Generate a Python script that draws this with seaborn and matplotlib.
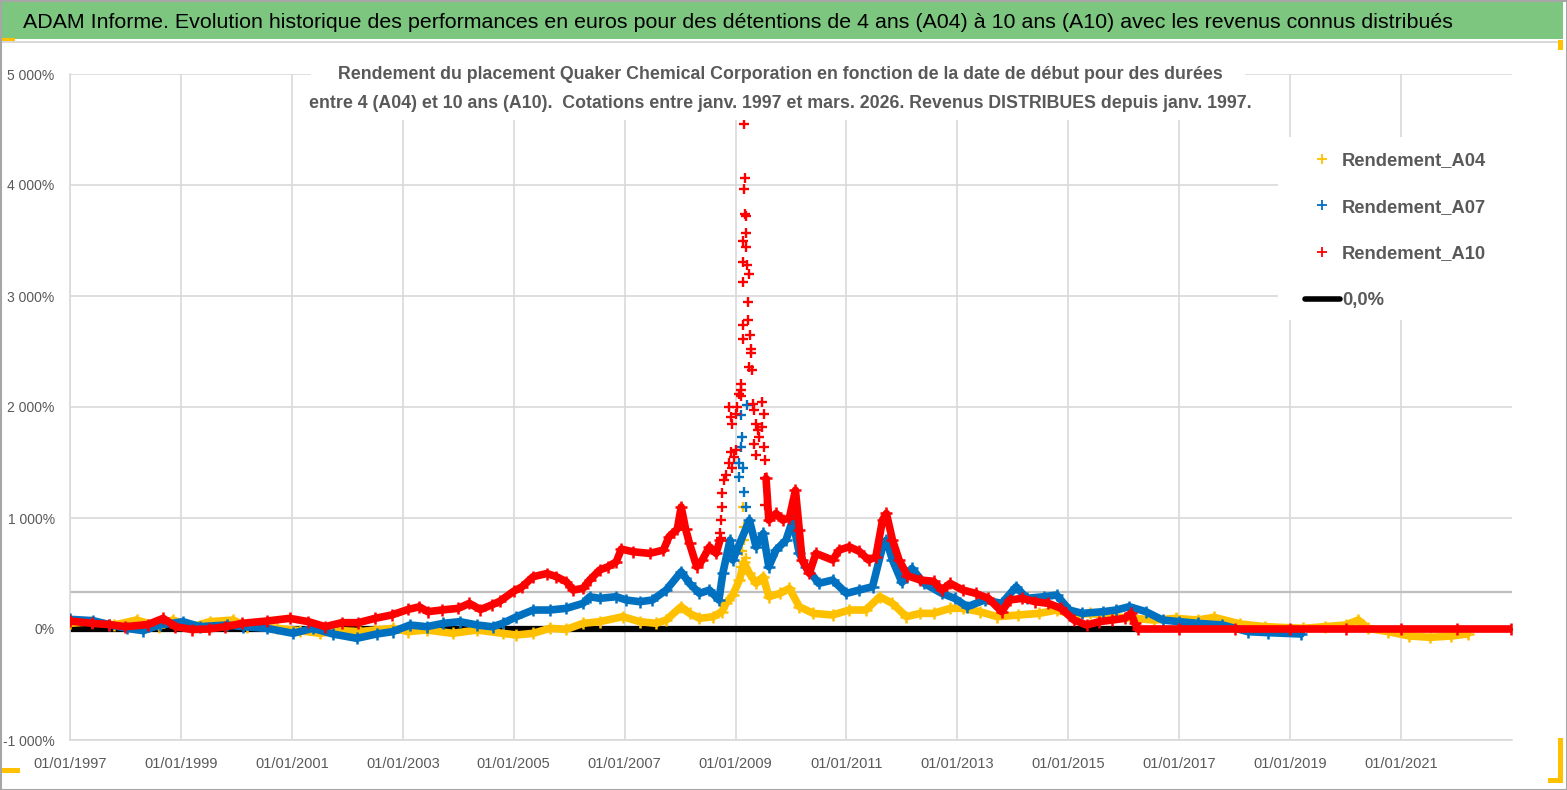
import numpy as np
import pandas as pd
import matplotlib.pyplot as plt
import seaborn as sns
from matplotlib.lines import Line2D
from matplotlib.patches import Rectangle

sns.set_theme(style='white')
plt.rcParams['font.family'] = ['Liberation Sans', 'DejaVu Sans']

# ---- data (start date as decimal year, performance in %) ----
a04_years = [1997.0, 1997.4, 1997.8, 1998.2, 1998.6, 1998.85, 1999.2, 1999.52, 1999.94, 2000.2,
             2000.73, 2001.14, 2001.5, 2001.9, 2002.22, 2002.5, 2002.82, 2003.1, 2003.43, 2003.9,
             2004.34, 2004.8, 2005.05, 2005.35, 2005.65, 2005.95, 2006.25, 2006.55, 2006.97, 2007.27,
             2007.57, 2007.75, 2008.02, 2008.17, 2008.35, 2008.6, 2008.75, 2008.83, 2008.95, 2009.07,
             2009.15, 2009.25, 2009.37, 2009.5, 2009.6, 2009.8, 2009.97, 2010.15, 2010.4, 2010.75,
             2011.05, 2011.35, 2011.6, 2011.83, 2012.08, 2012.33, 2012.57, 2012.87, 2013.1, 2013.4,
             2013.72, 2014.1, 2014.48, 2014.79, 2015.1, 2015.4, 2015.79, 2016.17, 2016.55, 2016.94,
             2017.33, 2017.63, 2018.1, 2018.55, 2019.24, 2019.62, 2020.0, 2020.23, 2020.4, 2020.77,
             2021.15, 2021.53, 2021.9, 2022.2]
a04_values = [51, 66, 36, 81, 21, 81, 21, 66, 81, 21,
              6, -15, -39, -15, -24, -9, 6, -24, -9, -39,
              -9, -39, -54, -39, 6, -3, 51, 66, 111, 66,
              51, 81, 201, 141, 96, 111, 156, 231, 306, 441,
              600, 501, 411, 471, 291, 321, 366, 201, 141, 126,
              171, 171, 291, 231, 111, 141, 141, 186, 186, 156,
              111, 126, 141, 171, 126, 141, 111, 96, 81, 96,
              81, 105, 45, 21, 6, 21, 36, 81, 6, -24,
              -63, -75, -63, -45]

a07_years = [1997.0, 1997.42, 1997.7, 1998.02, 1998.32, 1998.62, 1999.04, 1999.34, 1999.83, 2000.12,
             2000.55, 2001.02, 2001.38, 2001.74, 2002.17, 2002.53, 2002.82, 2003.13, 2003.43, 2003.73,
             2004.03, 2004.34, 2004.62, 2004.8, 2005.05, 2005.35, 2005.65, 2005.95, 2006.25, 2006.37,
             2006.55, 2006.85, 2007.03, 2007.27, 2007.5, 2007.75, 2008.02, 2008.17, 2008.35, 2008.53,
             2008.7, 2008.77, 2008.9, 2008.95, 2009.0, 2009.25, 2009.37, 2009.5, 2009.6, 2009.73,
             2009.91, 2010.03, 2010.15, 2010.27, 2010.5, 2010.75, 2011.0, 2011.23, 2011.47, 2011.65,
             2011.72, 2011.83, 2012.0, 2012.18, 2012.4, 2012.72, 2012.95, 2013.18, 2013.49, 2013.8,
             2014.06, 2014.25, 2014.56, 2014.79, 2015.02, 2015.25, 2015.63, 2015.86, 2016.1, 2016.4,
             2016.7, 2017.0, 2017.33, 2017.78, 2018.24, 2018.6, 2019.2]
a07_values = [87, 75, 40, 6, -15, 36, 66, 21, 36, 21,
              6, -39, 6, -45, -84, -45, -24, 36, 21, 51,
              66, 36, 20, 51, 110, 171, 171, 186, 231, 291,
              276, 291, 261, 246, 261, 351, 516, 411, 321, 351,
              261, 501, 801, 621, 681, 981, 741, 861, 561, 711,
              801, 981, 681, 561, 411, 441, 321, 351, 381, 741,
              801, 621, 420, 546, 411, 321, 276, 201, 261, 231,
              381, 276, 291, 306, 171, 141, 156, 171, 201, 156,
              81, 66, 51, 36, -24, -33, -45]

# A10 before the 2009 peak
a10_years = [1997.0, 1997.4, 1997.7, 1998.0, 1998.4, 1998.68, 1998.9, 1999.2, 1999.5, 1999.8,
             2000.1, 2000.55, 2000.96, 2001.3, 2001.6, 2001.9, 2002.2, 2002.5, 2002.8, 2003.1,
             2003.3, 2003.45, 2003.7, 2004.0, 2004.2, 2004.4, 2004.6, 2004.75, 2005.0, 2005.15,
             2005.35, 2005.6, 2005.77, 2005.95, 2006.07, 2006.25, 2006.37, 2006.55, 2006.7, 2006.85,
             2006.94, 2007.15, 2007.45, 2007.7, 2007.8, 2007.95, 2008.02, 2008.1, 2008.17, 2008.3,
             2008.4, 2008.53, 2008.65, 2008.72]
a10_values = [72, 51, 40, 21, 40, 96, 21, -5, 0, 20,
              51, 72, 96, 66, 21, 57, 57, 96, 126, 177,
              200, 156, 171, 186, 231, 175, 216, 250, 340, 380,
              471, 500, 471, 426, 351, 366, 441, 531, 561, 606,
              720, 696, 681, 711, 831, 900, 1100, 900, 771, 561,
              621, 741, 681, 801]
# A10 after the 2009 peak (zeros once the 10-year horizon is beyond the last quote)
a10_late_years = [2009.55, 2009.6, 2009.73, 2009.85, 2009.97, 2010.08, 2010.15, 2010.2, 2010.33, 2010.45,
                  2010.75, 2010.87, 2011.05, 2011.23, 2011.4, 2011.53, 2011.65, 2011.72, 2011.83, 2011.95,
                  2012.1, 2012.33, 2012.57, 2012.72, 2012.87, 2013.1, 2013.33, 2013.56, 2013.8, 2013.94,
                  2014.17, 2014.4, 2014.64, 2014.87, 2015.1, 2015.33, 2015.56, 2015.79, 2016.02, 2016.13,
                  2016.2, 2016.25, 2017.0, 2018.0, 2019.0, 2020.0, 2021.0, 2022.0, 2022.98]
a10_late_values = [1356, 981, 1041, 981, 1000, 1250, 891, 621, 501, 681,
                   621, 711, 741, 700, 621, 651, 981, 1041, 801, 621,
                   480, 441, 430, 351, 411, 351, 321, 276, 156, 261,
                   276, 246, 231, 186, 81, 36, 66, 81, 96, 141,
                   51, 0, 0, 0, 0, 0, 0, 0, 0]

# scattered points around the 2009 peak
a04_peak_years = [2009.1, 2009.12, 2009.14, 2009.15, 2009.16, 2009.18]
a04_peak_values = [560, 700, 1101, 921, 800, 640]
a07_peak_years = [2009.06, 2009.07, 2009.1, 2009.1, 2009.12, 2009.13, 2009.16, 2009.18, 2009.2]
a07_peak_values = [1500, 1371, 1926, 1641, 1731, 1446, 1236, 1101, 2016]
a10_peak_years = [2008.72, 2008.74, 2008.74, 2008.75, 2008.76, 2008.79, 2008.82, 2008.88, 2008.88,
                  2008.91, 2008.91, 2008.94, 2008.94, 2008.97, 2009.0, 2009.01, 2009.03, 2009.06,
                  2009.09, 2009.1, 2009.1, 2009.13, 2009.13, 2009.13, 2009.13, 2009.13, 2009.15,
                  2009.16, 2009.17, 2009.17, 2009.18, 2009.18, 2009.19, 2009.2, 2009.23, 2009.23,
                  2009.24, 2009.25, 2009.26, 2009.27, 2009.28, 2009.3, 2009.31, 2009.34, 2009.34,
                  2009.37, 2009.37, 2009.4, 2009.43, 2009.48, 2009.48, 2009.51, 2009.51, 2009.54,
                  2009.54, 2009.54]
a10_peak_values = [861, 816, 981, 1221, 1101, 1341, 1386, 1491, 2001,
                   1596, 1911, 1446, 1851, 1551, 1611, 1941, 2001, 2121,
                   2097, 2211, 2151, 3495, 3306, 3126, 2739, 2616, 3960,
                   4548, 4062, 3741, 3717, 3570, 3441, 3276, 2949, 2784,
                   3195, 2361, 2649, 2520, 2484, 2337, 2031, 1971, 1671,
                   1851, 1566, 1791, 1731, 2046, 1821, 1941, 1641, 1521,
                   1356, 1116]

zero_years = [1997.0, 2023.0]
zero_values = [0, 0]

tick_years = list(range(1997, 2022, 2))
tick_labels = ['01/01/%d' % y for y in tick_years]
y_ticks = list(range(-1000, 5001, 1000))
y_labels = ['%s%%' % format(v, ',').replace(',', ' ') for v in y_ticks]
ref_level = 335  # grey reference line

title = ("ADAM Informe. Evolution historique des performances en euros pour des détentions "
         "de 4 ans (A04) à 10 ans (A10) avec les revenus connus distribués")
subtitle = ("Rendement du placement Quaker Chemical Corporation en fonction de la date de début pour des durées\n"
            "entre 4 (A04) et 10 ans (A10).  Cotations entre janv. 1997 et mars. 2026. Revenus DISTRIBUES depuis janv. 1997.")
legend_labels = ['Rendement_A04', 'Rendement_A07', 'Rendement_A10', '0,0%']

YEL, BLU, RED = '#FFC000', '#0070C0', '#FF0000'
GREY_TXT = '#595959'

W, H = 1567, 790
fig = plt.figure(figsize=(W / 100, H / 100), dpi=100)
ax = fig.add_axes([70 / W, 50 / H, 1442 / W, 666 / H])
ax.set_axisbelow(True)


def band(xs, ys, color, z):
    sns.lineplot(x=xs, y=ys, color=color, marker='+', markersize=9, markeredgewidth=1.8,
                 markeredgecolor=color, linewidth=5.5, estimator=None, sort=False, ax=ax, zorder=z)


def scatter(xs, ys, color, z):
    sns.scatterplot(x=xs, y=ys, color=color, marker='+', s=50, linewidth=1.7, ax=ax, zorder=z)


sns.lineplot(x=zero_years, y=zero_values, color='black', linewidth=4.5, ax=ax, zorder=2)
band(a04_years, a04_values, YEL, 3)
scatter(a04_peak_years, a04_peak_values, YEL, 3)
band(a07_years, a07_values, BLU, 4)
scatter(a07_peak_years, a07_peak_values, BLU, 4)
band(a10_years, a10_values, RED, 5)
band(a10_late_years, a10_late_values, RED, 5)
scatter(a10_peak_years, a10_peak_values, RED, 5)

ax.axhline(ref_level, color='#BFBFBF', linewidth=1.6, zorder=1)

ax.set_xlim(1997, 2023)
ax.set_ylim(-1000, 5000)
ax.set_xticks(tick_years)
ax.set_xticklabels(tick_labels)
ax.set_yticks(y_ticks)
ax.set_yticklabels(y_labels)
ax.tick_params(axis='x', length=0, pad=12, labelsize=10.5, labelcolor=GREY_TXT)
ax.tick_params(axis='y', length=0, pad=11, labelsize=10, labelcolor=GREY_TXT)
ax.grid(True, color='#D9D9D9', linewidth=1.2)
for side in ['top', 'right']:
    ax.spines[side].set_visible(False)
for side in ['left', 'bottom']:
    ax.spines[side].set_color('#D9D9D9')
    ax.spines[side].set_linewidth(1.2)
ax.set_xlabel('')
ax.set_ylabel('')

# white boxes behind subtitle and legend (hide gridlines)
fig.patches.append(Rectangle((311 / W, 1 - 120 / H), 934 / W, 66 / H, transform=fig.transFigure,
                             facecolor='white', edgecolor='none', zorder=2))
fig.patches.append(Rectangle((1278 / W, 1 - 320 / H), 252 / W, 183 / H, transform=fig.transFigure,
                             facecolor='white', edgecolor='none', zorder=2))
fig.text(780 / W, 1 - 89 / H, subtitle, ha='center', va='center', fontsize=12.75, weight='bold',
         color=GREY_TXT, linespacing=1.95, zorder=3)

handles = [Line2D([], [], ls='none', marker='+', color=YEL, markersize=7, markeredgewidth=1.3),
           Line2D([], [], ls='none', marker='+', color=BLU, markersize=7, markeredgewidth=1.3),
           Line2D([], [], ls='none', marker='+', color=RED, markersize=7, markeredgewidth=1.3),
           Line2D([], [], color='black', linewidth=4)]
leg = fig.legend(handles, legend_labels,
                 loc='upper left', bbox_to_anchor=(1305 / W, 1 - 152 / H), frameon=False,
                 prop={'size': 13.2, 'weight': 'bold'}, labelcolor=GREY_TXT,
                 labelspacing=1.62, handlelength=1.9, handletextpad=0.12, borderpad=0, borderaxespad=0)
leg.set_zorder(4)

# title banner
fig.patches.append(Rectangle((0, 1 - 39 / H), 1563 / W, 37 / H, transform=fig.transFigure,
                             facecolor='#7DC67F', edgecolor='none', zorder=1))
fig.patches.append(Rectangle((0, 1 - 43 / H), 1563 / W, 2 / H, transform=fig.transFigure,
                             facecolor='#D9D9D9', edgecolor='none', zorder=1))
fig.text(23 / W, 1 - 22 / H, title, ha='left', va='center', fontsize=15.4, color='black', zorder=3)
# selection handles and outer border
for (x0, y0, w, h) in [(0, 38, 15, 3), (1558, 40, 5, 10), (1558, 738, 5, 45), (1548, 778, 15, 5), (0, 768, 20, 5)]:
    fig.patches.append(Rectangle((x0 / W, 1 - (y0 + h) / H), w / W, h / H, transform=fig.transFigure,
                                 facecolor='#FFC000', edgecolor='none', zorder=1))
fig.patches.append(Rectangle((0.5 / W, 0.5 / H), 1 - 1 / W, 1 - 1 / H, transform=fig.transFigure,
                             facecolor='none', edgecolor='#A6A6A6', linewidth=1.5, zorder=5))

fig.savefig('out.png', dpi=100)
